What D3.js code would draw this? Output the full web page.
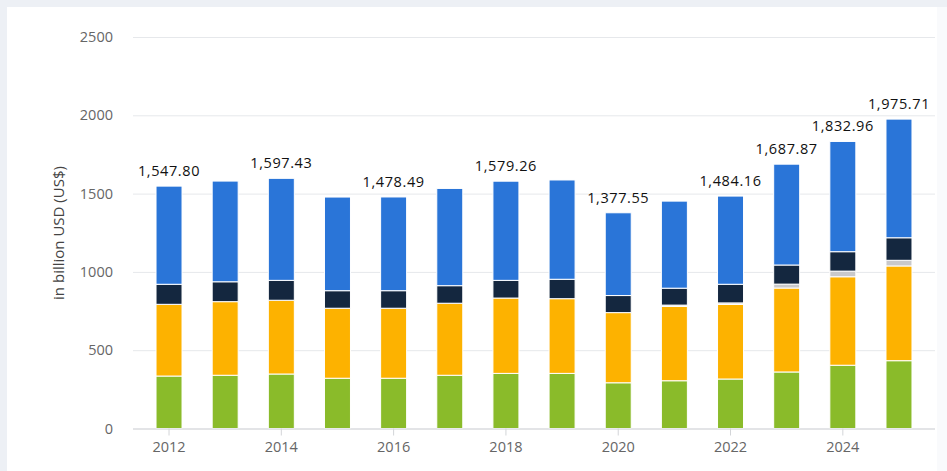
<!DOCTYPE html>
<html>
<head>
<meta charset="utf-8">
<script src="https://cdn.jsdelivr.net/npm/d3@7"></script>
<style>
  html, body { margin: 0; padding: 0; background: #fff; }
  svg { display: block; font-family: "Open Sans", "Noto Sans", sans-serif; }
</style>
</head>
<body>
<svg width="947" height="471"></svg>
<script>
// chart data
var years = [2012, 2013, 2014, 2015, 2016, 2017, 2018, 2019, 2020, 2021, 2022, 2023, 2024, 2025];
var greenVals  = [335, 340, 348, 321, 321, 340, 352, 352, 292, 305, 316, 361, 404, 433];
var orangeVals = [458, 470, 471, 447, 447, 460, 481, 477, 448, 475, 476, 536, 565, 605];
var grayVals   = [0, 0, 0, 0, 0, 0, 0, 0, 0, 8, 10, 25, 36, 36];
var navyVals   = [128, 127, 127, 112, 112, 112, 113, 124, 109, 108, 119, 122, 124, 144];
var blueVals   = [626.80, 643, 651.43, 598, 598.49, 621, 633.26, 634, 528.55, 556, 563.16, 643.87, 703.96, 757.71];
// totals printed above bars (null = no label in the original)
var totalLabels = ["1,547.80", null, "1,597.43", null, "1,478.49", null, "1,579.26", null,
                   "1,377.55", null, "1,484.16", "1,687.87", "1,832.96", "1,975.71"];
var yTicks = [0, 500, 1000, 1500, 2000, 2500];
var xTicks = [2012, 2014, 2016, 2018, 2020, 2022, 2024];
var yLabel = "in billion USD (US$)";

(function() {
  var svg = d3.select("svg"),
      left = 133, right = 935, top = 37, bottom = 428.5;

  var series = [
    {key: "green",  color: "#8abb2a", values: greenVals},
    {key: "orange", color: "#fdb200", values: orangeVals},
    {key: "gray",   color: "#c9c9cb", values: grayVals},
    {key: "navy",   color: "#14273f", values: navyVals},
    {key: "blue",   color: "#2a75d8", values: blueVals}
  ];

  // background frame
  svg.append("rect").attr("width", 947).attr("height", 471).attr("fill", "#edf0f5");
  svg.append("rect").attr("x", 7).attr("y", 7).attr("width", 940).attr("height", 464).attr("fill", "#fff");
  svg.append("rect").attr("x", 937).attr("y", 7).attr("width", 10).attr("height", 464).attr("fill", "#f9fafc");

  var x = d3.scaleBand().domain(years).range([left, right]).paddingInner(0.537).paddingOuter(0.41),
      y = d3.scaleLinear().domain([0, 2500]).range([bottom, top]);

  // y axis + grid
  var gy = svg.append("g")
    .attr("transform", "translate(" + left + ",0)")
    .call(d3.axisLeft(y).tickValues(yTicks).tickFormat(d3.format("d"))
      .tickSize(-(right - left)).tickPadding(20));
  gy.select(".domain").remove();
  gy.selectAll(".tick line").attr("stroke", "#e6e8eb");
  gy.selectAll(".tick text").attr("fill", "#666").attr("font-size", 14.5)
    .attr("font-family", "Open Sans, Noto Sans, sans-serif");

  // stacked bars
  var rows = years.map(function(yr, i) {
    var r = {year: yr};
    series.forEach(function(s) { r[s.key] = s.values[i]; });
    return r;
  });
  var stack = d3.stack().keys(series.map(function(s) { return s.key; }))(rows);

  svg.append("g").selectAll("g").data(stack).enter().append("g")
    .attr("fill", function(d, i) { return series[i].color; })
    .selectAll("rect")
    .data(function(d) { return d.filter(function(p) { return p[1] - p[0] > 0; }); })
    .enter().append("rect")
    .attr("x", function(d) { return x(d.data.year); })
    .attr("y", function(d) { return y(d[1]); })
    .attr("width", x.bandwidth())
    .attr("height", function(d) { return y(d[0]) - y(d[1]); })
    .attr("stroke", "#fff")
    .attr("stroke-width", 1);

  // x axis
  var gx = svg.append("g")
    .attr("transform", "translate(0," + bottom + ")")
    .call(d3.axisBottom(x).tickValues(xTicks).tickSizeInner(7).tickSizeOuter(0).tickPadding(6));
  gx.select(".domain").attr("stroke", "#d3d5d8").attr("d", "M" + left + ",0.5H" + right);
  gx.selectAll(".tick line").attr("stroke", "#d3d5d8");
  gx.selectAll(".tick text").attr("fill", "#666").attr("font-size", 14.5)
    .attr("font-family", "Open Sans, Noto Sans, sans-serif");

  // total labels
  var last = stack[stack.length - 1];
  svg.append("g").selectAll("text")
    .data(last.filter(function(d, i) { return totalLabels[i] !== null; }))
    .enter().append("text")
    .attr("x", function(d) { return x(d.data.year) + x.bandwidth() / 2; })
    .attr("y", function(d) { return y(d[1]) - 10; })
    .attr("text-anchor", "middle")
    .attr("font-size", 14.5)
    .attr("font-weight", 500)
    .attr("letter-spacing", "0.6px")
    .attr("fill", "#111")
    .text(function(d) { return totalLabels[years.indexOf(d.data.year)]; });

  // y axis title
  svg.append("text")
    .attr("transform", "translate(64,233) rotate(-90)")
    .attr("text-anchor", "middle")
    .attr("font-size", 15)
    .attr("fill", "#444")
    .text(yLabel);
})();
</script>
</body>
</html>
